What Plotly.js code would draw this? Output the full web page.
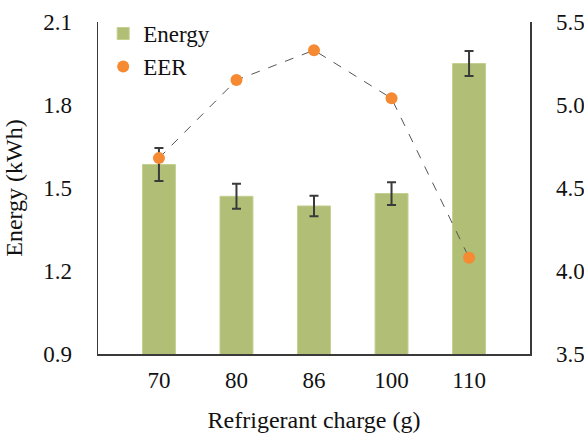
<!DOCTYPE html>
<html>
<head>
<meta charset="utf-8">
<script src="https://cdn.plot.ly/plotly-3.0.1.min.js"></script>
<style>
  html, body { margin: 0; padding: 0; background: #fff; }
  #chart { width: 584px; height: 438px; }
</style>
</head>
<body>
<div id="chart"></div>
<script>
// Refrigerant charge levels (g)
const charges = ['70', '80', '86', '100', '110'];
// Energy consumption (kWh) with error bar half-widths
const energy = [1.585, 1.47, 1.435, 1.48, 1.95];
const energyErr = [0.06, 0.045, 0.037, 0.041, 0.045];
// Energy efficiency ratio
const eer = [4.68, 5.15, 5.33, 5.04, 4.08];

const serif = 'Liberation Serif';

const traces = [
  {
    type: 'bar',
    name: 'Energy',
    x: charges,
    y: energy,
    width: 0.425,
    marker: { color: '#b0be76', line: { color: '#c4d08e', width: 1 } },
    error_y: { type: 'data', array: energyErr, visible: true, color: '#3a3a3a', thickness: 2, width: 4.5 },
    yaxis: 'y'
  },
  {
    // dashed connector between the EER points
    type: 'scatter',
    mode: 'lines',
    name: 'EER line',
    showlegend: false,
    x: charges,
    y: eer,
    line: { color: '#555', width: 1, dash: 'dash' },
    yaxis: 'y2'
  },
  {
    type: 'scatter',
    mode: 'markers',
    name: 'EER',
    x: charges,
    y: eer,
    marker: { color: '#f58a33', size: 12 },
    yaxis: 'y2'
  }
];

const layout = {
  width: 584,
  height: 438,
  // fixed margins: the legend sits slightly above the plot area without pushing it
  margin: { l: 98, r: 54, t: 22, b: 84, autoexpand: false },
  paper_bgcolor: '#fff',
  plot_bgcolor: '#fff',
  font: { family: serif, size: 23, color: '#111' },
  showlegend: true,
  legend: {
    x: 0.012, y: 1.03, xanchor: 'left', yanchor: 'top',
    font: { family: serif, size: 23, color: '#111' },
    bgcolor: 'rgba(0,0,0,0)', itemwidth: 30
  },
  xaxis: {
    type: 'category',
    range: [-0.786, 4.786],
    showline: true, linecolor: '#3a3a3a', linewidth: 1.5,
    showgrid: false, zeroline: false, ticks: '',
    ticklabelstandoff: 5,
    tickfont: { family: serif, size: 23 },
    title: { text: 'Refrigerant charge (g)', font: { family: serif, size: 24 }, standoff: 19 }
  },
  yaxis: {
    range: [0.9, 2.1], dtick: 0.3, tick0: 0.9, tickformat: '.1f',
    showline: true, linecolor: '#3a3a3a', linewidth: 1.5,
    showgrid: false, zeroline: false, ticks: '',
    ticklabelstandoff: 20,
    tickfont: { family: serif, size: 23 },
    title: { text: 'Energy (kWh)', font: { family: serif, size: 24 }, standoff: 14 }
  },
  yaxis2: {
    overlaying: 'y', side: 'right',
    range: [3.5, 5.5], dtick: 0.5, tick0: 3.5, tickformat: '.1f',
    showline: true, linecolor: '#3a3a3a', linewidth: 1.5,
    showgrid: false, zeroline: false, ticks: '',
    ticklabelstandoff: 20,
    tickfont: { family: serif, size: 23 }
  }
};

Plotly.newPlot('chart', traces, layout, { displayModeBar: false, staticPlot: true });
</script>
</body>
</html>
